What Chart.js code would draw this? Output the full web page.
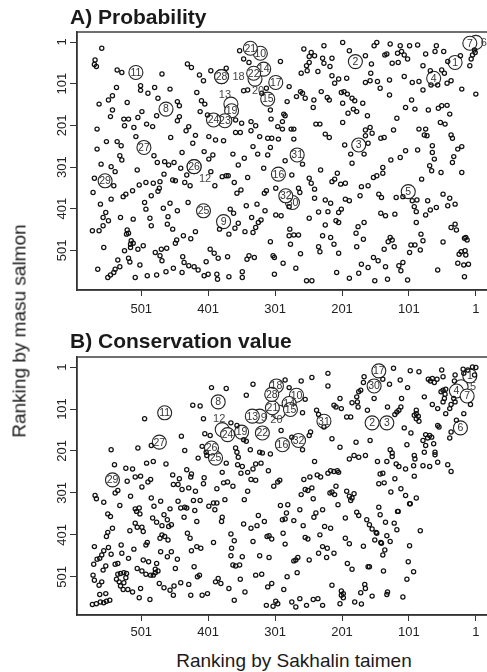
<!DOCTYPE html>
<html><head><meta charset="utf-8">
<script src="https://cdn.jsdelivr.net/npm/chart.js@4/dist/chart.umd.min.js"></script>
<style>
html,body{margin:0;padding:0;background:#fff;overflow:hidden;width:487px;height:672px;}
#wrap{position:relative;width:487px;height:672px;overflow:hidden;}
canvas{position:absolute;left:0;}
.t{position:absolute;font-family:'Liberation Sans',Arial,sans-serif;color:#1a1a1a;white-space:nowrap;line-height:1;}
</style></head><body>
<div id="wrap">
<canvas id="cA" width="500" height="325" style="top:0;width:500px;height:325px"></canvas>
<canvas id="cB" width="500" height="325" style="top:325px;width:500px;height:325px"></canvas>
<div class="t" style="left:70px;top:6px;font-weight:bold;font-size:21px;">A) Probability</div>
<div class="t" style="left:70px;top:330px;font-weight:bold;font-size:21px;">B) Conservation value</div>
<div class="t" style="left:294px;top:651px;font-size:19px;transform:translateX(-50%);">Ranking by Sakhalin taimen</div>
<div class="t" style="left:19px;top:331px;font-size:19px;transform:translate(-50%,-50%) rotate(-90deg);">Ranking by masu salmon</div>
</div>
<script>
// ---- data: [rank by Sakhalin taimen, rank by masu salmon] ----
const tickValues = [1, 101, 201, 301, 401, 501];
const tickLabels = ['1', '101', '201', '301', '401', '501'];

const probabilityRanks = [
[560,16],[570,44],[571,55],[568,60],[537,68],[530,74],[470,78],[432,54],[426,62],[414,80],[408,94],[397,70],[374,64],[354,22],[348,42],[340,50],[538,110],[502,106],[502,117],[491,124],[481,110],[476,136],[458,114],[418,122],[447,144],[444,154],[411,142],[406,150],[348,118],[342,116],[314,112],[321,124],[564,150],[550,140],[544,130],[522,146],[544,164],[547,180],[500,168],[506,182],[527,186],[520,186],[478,178],[444,180],[447,190],[413,168],[402,176],[360,188],[351,196],[337,192],[308,164],[307,186],[567,210],[526,202],[512,206],[493,198],[484,204],[430,204],[434,214],[420,225],[400,228],[390,236],[378,238],[360,218],[353,218],[337,214],[330,202],[324,228],[312,232],[509,228],[457,230],[553,240],[537,240],[531,250],[424,244],[567,258],[334,252],[308,254],
[533,274],[530,284],[482,274],[440,266],[407,264],[394,272],[400,282],[364,270],[347,280],[327,270],[312,272],[561,294],[546,300],[540,312],[507,308],[477,290],[466,288],[460,296],[452,290],[442,304],[433,320],[397,312],[356,296],[318,304],[571,328],[542,346],[573,362],[562,390],[546,378],[528,372],[524,366],[514,358],[504,344],[494,338],[483,340],[473,336],[474,352],[476,359],[467,318],[454,332],[450,334],[436,338],[428,346],[391,346],[380,324],[374,322],[371,322],[362,338],[342,326],[358,364],[352,356],[317,364],[314,358],[486,370],[496,386],[494,402],[468,400],[458,388],[447,406],[431,386],[368,402],[363,412],[344,394],[328,390],[316,406],[554,410],[558,422],[550,430],[558,442],[532,422],[513,426],[488,424],[486,442],[461,420],[462,438],[454,450],[384,450],[356,436],[361,448],[336,422],[322,428],[326,434],[330,446],[346,456],[334,458],[370,462],[574,454],[564,454],[522,452],[520,460],[523,462],[420,456],[438,466],[427,473],[448,476],[450,484],[516,478],[513,484],[517,486],[557,494],[526,502],[517,494],[506,498],[498,490],[471,498],[463,496],[480,506],[473,514],[470,526],[398,498],[392,508],[386,520],[372,516],[343,522],[340,514],[332,518],[536,524],[520,520],[518,529],[503,536],[439,516],[437,530],[430,538],[422,540],[416,548],[404,528],[453,544],[464,552],[566,546],[533,540],[540,546],[542,554],[547,560],[551,566],[510,566],[492,562],[478,560],[440,554],[407,562],[401,558],[388,558],[387,570],[370,564],[350,552],[350,566],
[293,48],[258,18],[247,26],[250,36],[250,50],[254,58],[253,70],[262,76],[228,10],[242,34],[230,40],[228,52],[216,40],[237,72],[219,60],[200,2],[190,22],[166,34],[157,54],[149,2],[153,10],[137,32],[134,30],[129,6],[126,52],[117,50],[114,10],[118,28],[112,24],[108,32],[103,42],[100,10],[88,8],[76,30],[80,58],[60,10],[62,24],[49,24],[3,20],[6,32],[8,42],[2,26],[43,48],[24,34],[10,58],[212,100],[206,90],[194,88],[202,122],[193,126],[186,136],[216,82],[166,98],[159,94],[158,76],[148,96],[144,112],[130,92],[130,128],[108,84],[96,98],[86,96],[80,116],[69,70],[58,104],[68,104],[52,68],[48,76],[44,100],[38,94],[22,114],[1,126],[280,108],[283,144],[263,120],[260,124],[269,132],[256,136],[243,140],[232,120],[223,134],[220,140],[244,158],[198,120],[200,148],[192,172],[184,162],[179,168],[182,142],[170,148],[163,178],[97,140],[106,158],[92,162],[72,164],[57,160],[52,154],[44,153],[40,174],[119,184],[288,174],[286,178],[290,192],[297,204],[290,210],[277,210],[273,210],[240,198],[234,198],[226,222],[220,230],[200,194],[166,212],[159,206],[166,226],[156,220],[143,232],[138,230],[124,212],[86,210],[76,210],[78,224],[74,226],[54,194],[47,198],[38,224],[36,232],[306,232],[296,234],[273,234],[197,248],[162,244],[66,250],[22,252],[28,258],
[260,294],[286,286],[276,320],[188,270],[168,270],[186,292],[128,284],[114,278],[106,262],[88,260],[66,266],[63,282],[34,276],[36,290],[233,308],[250,328],[247,340],[242,354],[216,336],[212,330],[208,316],[203,342],[196,340],[172,348],[162,346],[154,326],[149,322],[140,302],[140,316],[82,330],[70,298],[67,310],[53,314],[22,314],[300,352],[266,352],[264,362],[280,396],[300,416],[292,418],[242,376],[226,380],[218,388],[196,378],[190,382],[174,370],[146,366],[142,374],[120,374],[110,372],[96,382],[89,380],[93,396],[90,408],[73,382],[50,366],[40,376],[43,394],[32,390],[60,398],[69,404],[76,416],[250,424],[236,409],[222,408],[206,410],[202,402],[210,430],[206,434],[226,440],[143,412],[136,418],[122,414],[177,444],[168,434],[180,460],[169,474],[90,434],[38,446],[32,438],[30,452],[279,450],[280,466],[273,464],[266,464],[278,486],[230,466],[218,470],[213,486],[236,492],[234,504],[206,508],[179,492],[138,498],[132,480],[129,470],[126,476],[123,492],[98,488],[92,488],[84,500],[83,462],[80,478],[50,481],[18,472],[16,470],[14,476],[26,510],[23,504],[17,502],[16,512],[28,532],[19,536],[12,534],[304,514],[302,518],[308,480],[289,532],[270,544],[263,509],[302,558],[254,574],[246,574],[209,554],[190,568],[176,556],[172,534],[162,542],[154,518],[147,526],[136,540],[152,574],[133,570],[116,538],[113,550],[110,530],[103,572],[100,506],[58,548],[18,564]
];

const conservationRanks = [
[396,50],[374,52],[334,42],[344,68],[424,92],[413,94],[496,124],[408,124],[367,134],[358,140],[348,174],[344,178],[406,160],[398,164],[441,166],[486,188],[506,194],[546,198],[436,200],[410,190],[404,204],[403,212],[416,218],[360,194],[358,204],[356,216],[338,198],[324,204],[320,206],[308,208],[493,230],[483,226],[464,232],[541,234],[524,242],[514,244],[433,246],[426,256],[454,258],[380,252],[374,230],[357,234],[350,238],[342,252],[352,254],[334,244],[330,232],[322,230],[311,248],
[286,32],[280,50],[262,34],[246,26],[256,78],[222,16],[222,46],[260,110],[239,104],[236,114],[228,144],[213,92],[204,76],[210,96],[202,100],[194,120],[188,120],[186,86],[178,84],[177,96],[179,72],[176,60],[173,56],[168,24],[140,30],[169,38],[163,104],[153,76],[130,42],[124,4],[114,32],[103,50],[99,10],[86,12],[112,76],[113,96],[116,104],[119,108],[122,114],[133,96],[108,146],[98,158],[90,104],[90,112],[93,116],[87,118],[86,130],[90,124],[78,72],[72,30],[69,34],[66,28],[63,38],[59,30],[52,8],[50,24],[66,90],[58,100],[53,60],[50,56],[46,54],[48,76],[47,66],[50,84],[46,112],[40,100],[38,90],[32,20],[33,34],[20,6],[19,16],[13,8],[6,1],[1,2],[3,20],[34,76],[32,84],[9,90],[30,128],[19,112],[38,156],[40,170],[56,144],[58,140],[76,162],[70,164],[73,170],[67,168],[80,176],[76,188],[64,184],[78,204],[62,204],[62,210],[104,186],[129,198],[126,206],[126,214],[120,232],[116,238],[93,212],[92,220],[94,236],[80,236],[70,238],[58,228],[43,234],[38,250],[159,176],[180,180],[204,192],[216,172],[248,156],[250,164],[292,152],[276,168],[260,198],[242,226],[190,220],[183,212],[176,216],[166,212],[148,226],[134,226],[106,244],[218,248],[213,250],[208,248],[206,252],[222,254],[238,258],[144,256],[140,254],
[540,301],[536,295],[522,273],[510,263],[502,261],[500,287],[491,275],[487,269],[453,281],[446,281],[444,267],[440,293],[430,289],[420,297],[408,279],[407,265],[427,263],[388,291],[378,277],[372,275],[364,285],[342,297],[337,269],[330,271],[570,307],[568,315],[557,323],[533,331],[517,309],[551,351],[547,357],[544,385],[551,395],[553,405],[510,339],[504,337],[508,345],[503,351],[486,313],[482,333],[472,321],[458,339],[446,321],[442,337],[436,335],[433,337],[437,359],[423,319],[413,319],[421,343],[418,369],[400,333],[393,325],[388,325],[391,341],[376,317],[347,317],[484,361],[478,371],[470,379],[467,353],[462,365],[460,381],[456,377],[510,373],[507,383],[500,383],[498,393],[518,391],[380,359],[381,369],[348,375],[337,385],[328,379],[326,355],[317,369],[432,397],[428,409],[470,401],[466,405],[461,413],[492,419],[494,425],[473,409],[393,419],[367,399],[362,415],[334,417],[313,405],[310,403],[571,429],[557,439],[560,449],[563,457],[567,459],[550,431],[546,447],[531,425],[530,445],[512,435],[520,457],[540,471],[536,469],[498,461],[490,465],[478,469],[480,483],[472,441],[462,453],[456,441],[447,459],[426,439],[418,429],[412,433],[366,433],[367,451],[350,453],[324,451],[310,455],[572,471],[558,485],[554,475],[507,481],[500,487],[450,481],[422,477],[364,473],[360,475],[354,473],[573,497],[571,509],[560,513],[564,521],[536,495],[532,493],[527,491],[523,493],[538,507],[534,513],[527,515],[524,503],[532,523],[528,531],[521,531],[514,537],[494,495],[487,497],[480,491],[476,487],[483,497],[502,529],[474,517],[467,527],[458,533],[452,523],[442,515],[430,519],[417,501],[414,497],[390,513],[386,505],[382,517],[370,529],[353,507],[346,537],[330,497],[321,495],[312,525],[563,543],[554,541],[574,567],[568,565],[562,561],[557,563],[553,559],[548,557],[504,551],[488,555],[453,545],[427,545],[410,545],[402,541],[362,557],[314,569],
[303,285],[297,275],[294,271],[258,269],[249,263],[233,263],[262,305],[256,293],[252,295],[246,289],[244,315],[219,301],[216,299],[212,305],[210,285],[194,297],[190,309],[186,313],[188,319],[183,303],[207,329],[146,279],[138,277],[122,267],[93,261],[128,299],[113,291],[106,307],[90,313],[100,327],[99,327],[118,345],[117,345],[146,335],[144,353],[293,331],[282,329],[284,349],[264,341],[230,341],[240,349],[243,359],[290,365],[286,363],[273,367],[259,379],[179,347],[176,355],[196,361],[164,365],[160,377],[156,387],[150,395],[149,397],[136,371],[123,373],[119,389],[227,381],[218,385],[234,401],[289,397],[306,411],[256,407],[252,411],[196,409],[190,422],[152,413],[143,419],[142,421],[134,403],[129,417],[84,391],[286,423],[230,429],[223,433],[169,428],[137,437],[140,449],[100,427],[236,445],[213,445],[224,455],[270,461],[267,455],[273,463],[250,461],[193,469],[186,483],[162,477],[160,477],[139,487],[102,465],[94,489],[268,491],[283,501],[306,517],[288,531],[216,521],[167,519],[166,529],[173,539],[202,535],[199,541],[202,545],[199,551],[156,547],[133,537],[134,543],[104,507],[110,549],[300,559],[297,565],[304,571],[276,561],[270,573],[264,553],[254,569],[244,555],[237,553],[230,569],[204,565],[182,561],[172,566]
];

// labelled rivers: [label, rank by Sakhalin taimen, rank by masu salmon]
const labelledA = [
[6,1,2],[12,422,300],[13,367,150],[18,381,84],[20,331,90],
[1,32,50],[2,181,48],[3,176,248],[4,64,88],[5,102,360],[7,10,4],[8,464,162],[9,378,432],[10,323,28],[11,509,74],
[14,318,66],[15,312,138],[16,296,318],[17,300,98],[19,366,166],[21,338,16],[22,333,76],[23,376,190],[24,393,188],
[25,408,406],[26,422,300],[27,497,254],[28,381,84],[29,555,334],[30,275,386],[31,268,272],[32,285,370]
];
const labelledB = [
[5,23,48],[9,324,118],[12,380,150],[20,296,108],
[1,10,22],[2,156,134],[3,134,134],[4,30,58],[6,24,146],[7,14,70],[8,386,84],[10,269,68],[11,466,110],
[13,335,118],[14,280,88],[15,278,102],[16,290,186],[17,146,10],[18,299,46],[19,351,156],[21,305,98],[22,320,158],
[24,372,162],[25,390,218],[26,396,194],[27,474,180],[28,306,66],[29,544,270],[30,153,46],[31,228,130],[32,266,176]
];

// ---- styling (pixel offsets for labels drawn beside their rings) ----
const offsetsA = {6:[8,0], 12:[11,12], 13:[-6,-10], 18:[17,0], 20:[3,11]};
const offsetsB = {5:[12,0], 9:[4,1], 12:[-3,-11], 20:[-2,8]};
const FONT = "'Liberation Sans', Arial, sans-serif";
const INK = '#111';

const framePlugin = {
  id: 'frame',
  afterDatasetsDraw(chart) {
    const {ctx, chartArea: a} = chart;
    const offs = chart.options.plugins.frame.offsets;
    const meta = chart.getDatasetMeta(1);
    const ds = chart.data.datasets[1].data;
    ctx.save();
    ctx.textAlign = 'center';
    ctx.textBaseline = 'middle';
    meta.data.forEach((el, i) => {
      const id = ds[i].id;
      const o = offs[id];
      if (o) { ctx.font = '11px ' + FONT; ctx.fillStyle = '#444'; }
      else { ctx.font = '10.5px ' + FONT; ctx.fillStyle = '#333'; }
      ctx.fillText(String(id), el.x + (o ? o[0] : 0), el.y + (o ? o[1] : 0) + 0.5);
    });
    ctx.strokeStyle = '#333';
    ctx.lineWidth = 1.4;
    ctx.strokeRect(a.left, a.top, a.right - a.left, a.bottom - a.top);
    ctx.restore();
  }
};

function makePanel(id, pairs, labelled, offsets, yMax, xPad) {
  const axisCommon = {
    type: 'linear',
    reverse: true,
    min: -23,
    afterBuildTicks: s => { s.ticks = tickValues.map(v => ({value: v})); },
    border: {display: true, color: '#333', width: 1.4},
    grid: {display: true, drawOnChartArea: false, drawTicks: true, color: '#333', lineWidth: 1}
  };
  new Chart(document.getElementById(id), {
    type: 'scatter',
    data: {
      datasets: [
        {
          data: pairs.map(p => ({x: p[0], y: p[1]})),
          pointRadius: 2.1, pointHoverRadius: 2.1, borderWidth: 1.25,
          borderColor: INK, backgroundColor: 'rgba(0,0,0,0)', clip: false
        },
        {
          data: labelled.map(l => ({x: l[1], y: l[2], id: l[0]})),
          pointRadius: 7, pointHoverRadius: 7, borderWidth: 1.1,
          borderColor: '#222', backgroundColor: '#fff', clip: false
        }
      ]
    },
    options: {
      responsive: false, animation: false, events: [],
      layout: {padding: {top: 32, right: 8, left: 0, bottom: 0}},
      plugins: {legend: {display: false}, tooltip: {enabled: false}, frame: {offsets: offsets}},
      scales: {
        x: Object.assign({}, axisCommon, {
          max: 597,
          afterFit: s => { s.height = 35; },
          grid: Object.assign({}, axisCommon.grid, {tickLength: 6}),
          ticks: {padding: xPad, color: '#222', font: {family: FONT, size: 13},
                  callback: v => tickLabels[tickValues.indexOf(v)]}
        }),
        y: Object.assign({}, axisCommon, {
          max: yMax,
          afterFit: s => { s.width = 77; },
          grid: Object.assign({}, axisCommon.grid, {tickLength: 7}),
          ticks: {padding: -3, minRotation: 90, maxRotation: 90, crossAlign: 'center',
                  color: '#222', font: {family: FONT, size: 13},
                  callback: v => tickLabels[tickValues.indexOf(v)]}
        })
      }
    },
    plugins: [framePlugin]
  });
}

makePanel('cA', probabilityRanks, labelledA, offsetsA, 596, 6);
makePanel('cB', conservationRanks, labelledB, offsetsB, 592, 4);
</script>
</body></html>
